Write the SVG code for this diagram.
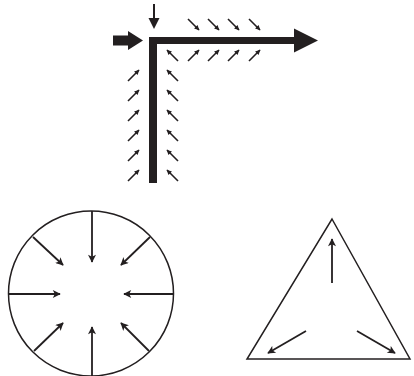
<svg xmlns="http://www.w3.org/2000/svg" width="414" height="376" viewBox="0 0 414 376">
<style>
.bg{fill:#ffffff}
.thin{stroke:#231f20;stroke-width:1.5;fill:none}
.sm{stroke:#231f20;stroke-width:1.6;fill:none;marker-end:url(#hs)}
.md{stroke:#231f20;stroke-width:1.8;fill:none;marker-end:url(#hm)}
.ink{fill:#231f20}
</style>
<defs>
<marker id="hs" markerUnits="userSpaceOnUse" viewBox="0 0 10 10" refX="9" refY="5" markerWidth="6" markerHeight="5" orient="auto">
<path d="M0,0 L10,5 L0,10 Z" fill="#231f20"/>
</marker>
<marker id="hm" markerUnits="userSpaceOnUse" viewBox="0 0 10 10" refX="9" refY="5" markerWidth="10" markerHeight="8" orient="auto">
<path d="M0,0 L10,5 L0,10 L2.5,5 Z" fill="#231f20"/>
</marker>
</defs>
<rect class="bg" x="0" y="0" width="414" height="376"/>
<g id="corner-flow">
<path class="ink" d="M149,37 H294 V28.5 L318,40.5 L294,52.5 V44 H157 V183 H149 Z"/>
<path class="ink" d="M113,35.5 H128 V31 L143,40.5 L128,50 V45.5 H113 Z"/>
<line x1="154" y1="4" x2="154" y2="20" stroke="#231f20" stroke-width="2"/>
<path class="ink" d="M148.5,18 L159.5,18 L154,29 Z"/>
</g>
<g id="connectors">
<line class="sm" x1="188" y1="19" x2="199" y2="30"/>
<line class="sm" x1="208" y1="19" x2="219" y2="30"/>
<line class="sm" x1="228" y1="19" x2="239" y2="30"/>
<line class="sm" x1="249" y1="19" x2="260" y2="30"/>
<line class="sm" x1="188" y1="61" x2="199" y2="50"/>
<line class="sm" x1="208" y1="61" x2="219" y2="50"/>
<line class="sm" x1="228" y1="61" x2="239" y2="50"/>
<line class="sm" x1="249" y1="61" x2="260" y2="50"/>
<line class="sm" x1="178" y1="61" x2="167" y2="50"/>
<line class="sm" x1="178" y1="81" x2="167" y2="70"/>
<line class="sm" x1="178" y1="101" x2="167" y2="90"/>
<line class="sm" x1="178" y1="121" x2="167" y2="110"/>
<line class="sm" x1="178" y1="141" x2="167" y2="130"/>
<line class="sm" x1="178" y1="161" x2="167" y2="150"/>
<line class="sm" x1="178" y1="181" x2="167" y2="170"/>
<line class="sm" x1="128" y1="81" x2="139" y2="70"/>
<line class="sm" x1="128" y1="101" x2="139" y2="90"/>
<line class="sm" x1="128" y1="121" x2="139" y2="110"/>
<line class="sm" x1="128" y1="141" x2="139" y2="130"/>
<line class="sm" x1="128" y1="161" x2="139" y2="150"/>
<line class="sm" x1="128" y1="181" x2="139" y2="170"/>
</g>
<g id="circle">
<circle class="thin" cx="91" cy="293.5" r="82.5"/>
<line class="md" x1="92" y1="211" x2="92" y2="262"/>
<line class="md" x1="92" y1="376" x2="92" y2="327"/>
<line class="md" x1="8.5" y1="294" x2="60" y2="294"/>
<line class="md" x1="173.5" y1="294" x2="124" y2="294"/>
<line class="md" x1="33" y1="237" x2="63" y2="265"/>
<line class="md" x1="150" y1="237" x2="121" y2="265"/>
<line class="md" x1="34" y1="351" x2="63" y2="323"/>
<line class="md" x1="149" y1="351" x2="121" y2="323"/>
</g>
<g id="triangle">
<path class="thin" d="M332,219 L410,359 L247,359 Z" stroke-linejoin="miter"/>
<line class="md" x1="332" y1="283" x2="332" y2="239"/>
<line class="md" x1="306" y1="331" x2="268" y2="353"/>
<line class="md" x1="357" y1="331" x2="395" y2="353"/>
</g>
</svg>
